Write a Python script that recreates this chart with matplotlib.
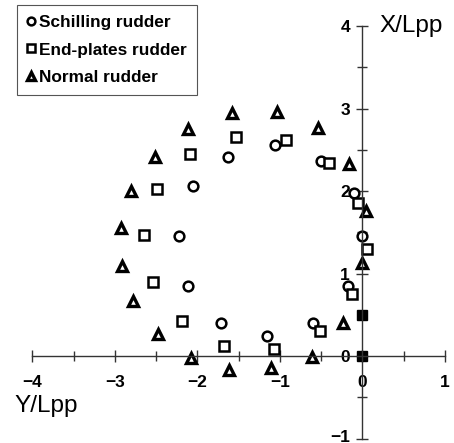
import matplotlib
matplotlib.use("Agg")
import matplotlib.pyplot as plt
from matplotlib.ticker import MultipleLocator, FixedLocator
from matplotlib.transforms import ScaledTranslation

# Turning trajectories (Y/Lpp, X/Lpp) for the three rudder types
schilling_y = [0.00, -0.10, -0.50, -1.06, -1.63, -2.05, -2.22, -2.12, -1.72, -1.16, -0.60, -0.18]
schilling_x = [1.45, 1.98, 2.36, 2.56, 2.41, 2.06, 1.45, 0.85, 0.40, 0.24, 0.40, 0.85]

endplate_y = [0.05, -0.05, -0.41, -0.93, -1.53, -2.09, -2.49, -2.65, -2.54, -2.19, -1.68, -1.07, -0.52, -0.13]
endplate_x = [1.30, 1.85, 2.34, 2.62, 2.65, 2.45, 2.02, 1.47, 0.90, 0.42, 0.12, 0.08, 0.30, 0.75]

normal_y = [0.00, 0.04, -0.16, -0.54, -1.04, -1.58, -2.12, -2.52, -2.81, -2.93, -2.92, -2.78,
            -2.48, -2.08, -1.62, -1.11, -0.61, -0.24]
normal_x = [1.13, 1.76, 2.33, 2.76, 2.96, 2.95, 2.75, 2.41, 2.00, 1.55, 1.09, 0.67,
            0.27, -0.02, -0.17, -0.15, -0.01, 0.40]

# common points shared by all three runs
start_y = [0.0, 0.0]
start_x = [0.0, 0.5]

labels = ["Schilling rudder", "End-plates rudder", "Normal rudder"]
x_ticks = [-4, -3, -2, -1, 0, 1]
y_ticks = [-1, 0, 1, 2, 3, 4]

W, H = 454, 443
fig = plt.figure(figsize=(W / 100, H / 100), dpi=100)
ax = fig.add_axes([0, 0, 1, 1])

# origin at pixel (362.5, 356), 82.5 px per unit
cx, cy, s = 362.5, 356.0, 82.5
ax.set_xlim(-cx / s, (W - cx) / s)
ax.set_ylim(-(H - cy) / s, cy / s)

for side in ("top", "right"):
    ax.spines[side].set_visible(False)
ax.spines["left"].set_position(("data", 0))
ax.spines["bottom"].set_position(("data", 0))
ax.spines["left"].set_bounds(-1, 4)
ax.spines["bottom"].set_bounds(-4, 1)
for side in ("left", "bottom"):
    ax.spines[side].set_color("#333333")
    ax.spines[side].set_linewidth(1.0)

ax.xaxis.set_major_locator(FixedLocator(x_ticks))
ax.yaxis.set_major_locator(FixedLocator(y_ticks))
ax.xaxis.set_minor_locator(MultipleLocator(0.5))
ax.yaxis.set_minor_locator(MultipleLocator(0.5))
ax.tick_params(which="major", direction="inout", length=8, width=1.0, color="#333333")
ax.tick_params(which="minor", direction="inout", length=7, width=1.0, color="#333333")
ax.tick_params(axis="x", which="major", pad=10)
ax.tick_params(axis="y", which="major", pad=5)
ax.set_xticklabels([str(v).replace("-", "\u2212") for v in x_ticks],
                   fontfamily="Liberation Sans", fontweight="bold", fontsize=12.5)
ylabels = ax.set_yticklabels([str(v).replace("-", "\u2212") for v in y_ticks],
                             fontfamily="Liberation Sans", fontweight="bold", fontsize=12.5,
                             va="center_baseline")
# lift the lowest label slightly so it stays inside the canvas
ylabels[0].set_transform(ylabels[0].get_transform()
                         + ScaledTranslation(0, 3 / 100, fig.dpi_scale_trans))

mk = dict(linestyle="none", color="black", markerfacecolor="white", markeredgecolor="black")
h1, = ax.plot(schilling_y, schilling_x, marker="o", markersize=7, markeredgewidth=1.8,
              label=labels[0], **mk)
h2, = ax.plot(endplate_y, endplate_x, marker="s", markersize=7, markeredgewidth=1.8,
              label=labels[1], **mk)
h3, = ax.plot(normal_y, normal_x, marker="^", markersize=6.5, markeredgewidth=2.4,
              label=labels[2], **mk)
ax.plot(start_y, start_x, linestyle="none", marker="s", markersize=7,
        color="black", markeredgecolor="black")

ax.text(0.2, 4.0, "X/Lpp", fontfamily="Liberation Sans", fontsize=17.5,
        ha="left", va="center")
ax.text(-4.22, -0.61, "Y/Lpp", fontfamily="Liberation Sans", fontsize=17.5,
        ha="left", va="center")

leg = ax.legend(handles=[h1, h2, h3], loc="upper left",
                bbox_to_anchor=(17 / W, 1 - 5 / H), bbox_transform=fig.transFigure,
                prop={"family": "Liberation Sans", "weight": "bold", "size": 12.4},
                markerscale=0.8, handlelength=0.5, handletextpad=0.25,
                labelspacing=0.75, borderpad=0.55, borderaxespad=0,
                fancybox=False, framealpha=1)
leg.get_frame().set_edgecolor("#555555")
leg.get_frame().set_linewidth(0.8)

fig.savefig("out.png", dpi=100)
